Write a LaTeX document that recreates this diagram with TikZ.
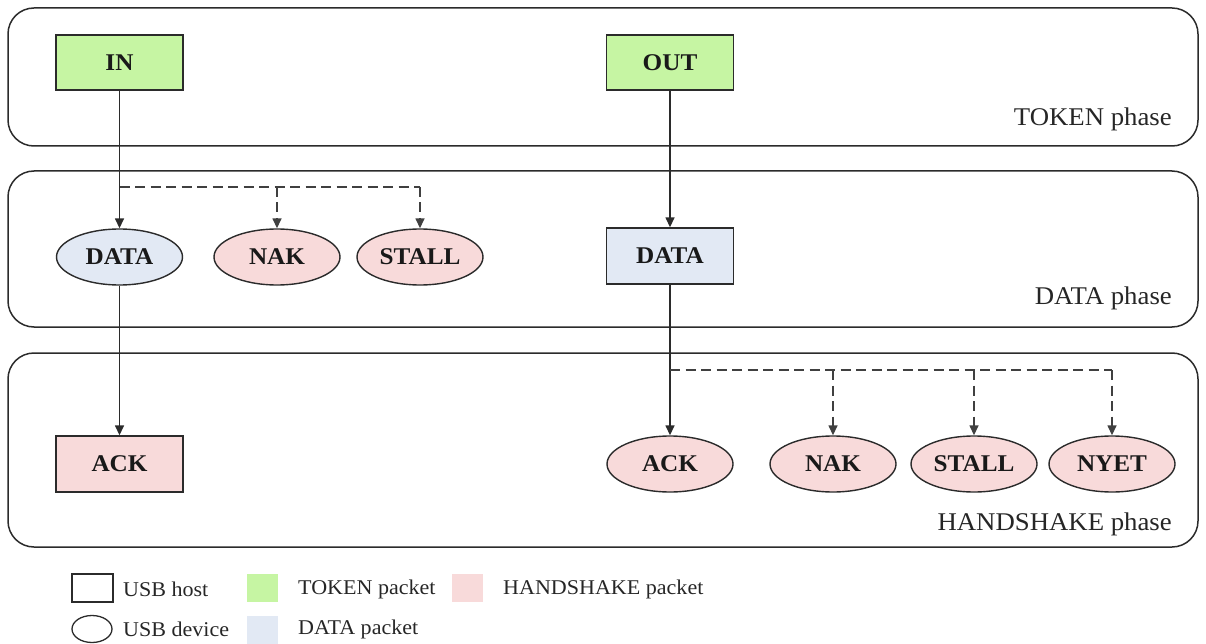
\documentclass[tikz,border=0pt]{standalone}
\usepackage{fontspec}
\setmainfont{Liberation Serif}[FakeStretch=1.05]
\usetikzlibrary{shapes.geometric,arrows.meta}

\definecolor{tokenfill}{HTML}{C6F5A3}
\definecolor{datafill}{HTML}{E2E9F4}
\definecolor{hsfill}{HTML}{F8DADA}
\definecolor{inkline}{HTML}{2B2B2B}

\tikzset{
  x=1pt, y=-1pt,
  panel/.style={draw=inkline, line width=1.5pt, rounded corners=26pt},
  phaselabel/.style={anchor=east, inner sep=0pt, text=black!85, font=\fontsize{25.5}{28}\selectfont},
  pkt/.style={draw=inkline, line width=1.4pt, inner sep=0pt, text=black!90,
    font=\bfseries\fontsize{24}{26}\selectfont},
  hostbox/.style={pkt, rectangle, minimum width=127pt, minimum height=55pt},
  devell/.style={pkt, ellipse, minimum width=126pt, minimum height=56pt},
  token/.style={fill=tokenfill},
  datapk/.style={fill=datafill},
  hspk/.style={fill=hsfill},
  tip/.style={-{Triangle[length=10pt,width=9pt]}},
  flow/.style={draw=inkline, line width=1.5pt, tip},
  altflow/.style={draw=inkline!90, line width=1.5pt, dash pattern=on 10pt off 5.5pt},
  legtext/.style={anchor=west, inner sep=0pt, text=black!85, font=\fontsize{21}{23}\selectfont},
}

\begin{document}
\begin{tikzpicture}
\useasboundingbox (0,0) rectangle (1206,644);

% phase panels
\draw[panel] (8,8) rectangle (1198,146);
\draw[panel] (8,171) rectangle (1198,327);
\draw[panel] (8,353) rectangle (1198,547);
\node[phaselabel] (lbtoken) at (1172,119) {TOKEN phase};
\node[phaselabel] (lbdata) at (1172,298) {DATA phase};
\node[phaselabel] (lbhs) at (1172,524) {HANDSHAKE phase};

% IN transaction
\node[hostbox, token] (in) at (119.5,62.5) {IN};
\node[devell, datapk] (dataIn) at (119.5,257) {DATA};
\node[devell, hspk] (nakIn) at (277,257) {NAK};
\node[devell, hspk] (stallIn) at (420,257) {STALL};
\node[hostbox, hspk, minimum height=56pt] (ackIn) at (119.5,464) {ACK};

% OUT transaction
\node[hostbox, token] (out) at (670,62.5) {OUT};
\node[hostbox, datapk, minimum height=56pt] (dataOut) at (670,256) {DATA};
\node[devell, hspk] (ackOut) at (670,464) {ACK};
\node[devell, hspk] (nakOut) at (833,464) {NAK};
\node[devell, hspk] (stallOut) at (974,464) {STALL};
\node[devell, hspk] (nyetOut) at (1112,464) {NYET};

% branch points of the dashed alternatives
\coordinate (jin) at (in.south |- 0,187);
\coordinate (jout) at (dataOut.south |- 0,370);

% IN flow
\draw[flow] (in.south) -- (dataIn.north);
\draw[altflow] (jin) -- (stallIn.north |- jin);
\draw[altflow, tip] (nakIn.north |- jin) -- (nakIn.north);
\draw[altflow, tip] (stallIn.north |- jin) -- (stallIn.north);
\draw[flow] (dataIn.south) -- (ackIn.north);

% OUT flow
\draw[flow] (out.south) -- (dataOut.north);
\draw[flow] (dataOut.south) -- (ackOut.north);
\draw[altflow] (jout) -- (nyetOut.north |- jout);
\draw[altflow, tip] (nakOut.north |- jout) -- (nakOut.north);
\draw[altflow, tip] (stallOut.north |- jout) -- (stallOut.north);
\draw[altflow, tip] (nyetOut.north |- jout) -- (nyetOut.north);

% legend
\node[draw=inkline, line width=1.3pt, rectangle, minimum width=41pt, minimum height=28pt, inner sep=0pt] (lghost) at (92.5,588) {};
\node[legtext] (lghosttx) at (123,589) {USB host};
\node[draw=inkline, line width=1.3pt, ellipse, minimum width=40pt, minimum height=27pt, inner sep=0pt] (lgdev) at (92,629) {};
\node[legtext] (lgdevtx) at (123,629) {USB device};
\node[fill=tokenfill, minimum width=31pt, minimum height=28pt, inner sep=0pt] (lgtok) at (262,588) {};
\node[legtext] (lgtoktx) at (298,589) {TOKEN packet};
\node[fill=datafill, minimum width=31pt, minimum height=29pt, inner sep=0pt] (lgdat) at (262,630) {};
\node[legtext] (lgdattx) at (298,629) {DATA packet};
\node[fill=hsfill, minimum width=31pt, minimum height=28pt, inner sep=0pt] (lghs) at (467,588) {};
\node[legtext] (lghstx) at (503,589) {HANDSHAKE packet};
\end{tikzpicture}
\end{document}
